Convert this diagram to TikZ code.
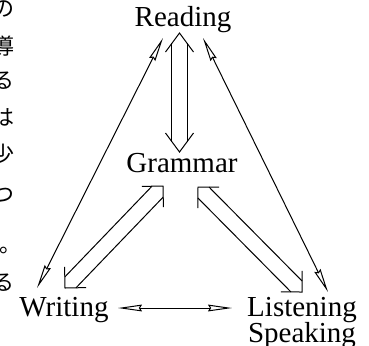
\documentclass[tikz,border=0pt]{standalone}
\usepackage{fontspec}
\setmainfont{Liberation Serif}
\newfontfamily\jpfont{Noto Sans CJK JP}
\usepackage{tikz}
\usetikzlibrary{arrows.meta, calc}

\begin{document}
\begin{tikzpicture}[x=0.5pt, y=-0.5pt,
  word/.style={font=\fontsize{14.5pt}{17pt}\selectfont, inner sep=0pt, anchor=base},
  jp/.style={font=\jpfont\fontsize{11pt}{12pt}\selectfont, inner sep=0pt, anchor=base},
  thinline/.style={line width=0.5pt,
    {Stealth[open, length=12pt, width=3.4pt, inset=1pt]}-{Stealth[open, length=12pt, width=3.4pt, inset=1pt]}},
  fatline/.style={line width=0.5pt}]
\useasboundingbox (0,0) rectangle (369,345);

% edge of the facing column
\foreach \c/\x/\y [count=\i] in {の/3/16, 導/3/54, る/3/88, は/3/125, 少/3/162, つ/3/202, 。/10/252, る/3/290}
  \node[jp] (jp\i) at (\x,\y) {\c};

% the four skills
\node[word] (reading) at (183,26) {Reading};
\node[word] (grammar) at (182,172) {Grammar};
\node[word] (writing) at (64,316) {Writing};
\node[word] (listening) at (302,316) {Listening};
\node[word] (speaking) at (302,342) {Speaking};

% ends of the thin arrows
\coordinate (rw1) at (163,38);
\coordinate (rw2) at (37,288);
\coordinate (rl1) at (203,38);
\coordinate (rl2) at (328,292);
\coordinate (wl1) at (118,308);
\coordinate (wl2) at (232,308);
\draw[thinline] (rw1) -- (rw2);
\draw[thinline] (rl1) -- (rl2);
\draw[thinline] (wl1) -- (wl2);

% ends of the hollow arrows to Grammar
\coordinate (rg1) at (179.5,33);
\coordinate (rg2) at (179.5,152);
\coordinate (wg1) at (65,288);
\coordinate (wg2) at (163,186);
\coordinate (lg1) at (302,292);
\coordinate (lg2) at (198,187);
\foreach \s/\e/\l/\h/\j in {rg1/rg2/9.5pt/7pt/5.2pt, wg1/wg2/7.5pt/7.5pt/3.9pt, lg1/lg2/7.5pt/7.5pt/3.9pt} {
  \draw[fatline] ($(\s)!\l!(\e)!\h!90:(\e)$) -- (\s) -- ($(\s)!\l!(\e)!\h!-90:(\e)$);
  \draw[fatline] ($(\e)!\l!(\s)!\h!90:(\s)$) -- (\e) -- ($(\e)!\l!(\s)!\h!-90:(\s)$);
  \draw[fatline] ($(\s)!\j!(\e)!3.9pt!90:(\e)$) -- ($(\e)!\j!(\s)!3.9pt!-90:(\s)$);
  \draw[fatline] ($(\s)!\j!(\e)!3.9pt!-90:(\e)$) -- ($(\e)!\j!(\s)!3.9pt!90:(\s)$);
}
\end{tikzpicture}
\end{document}
